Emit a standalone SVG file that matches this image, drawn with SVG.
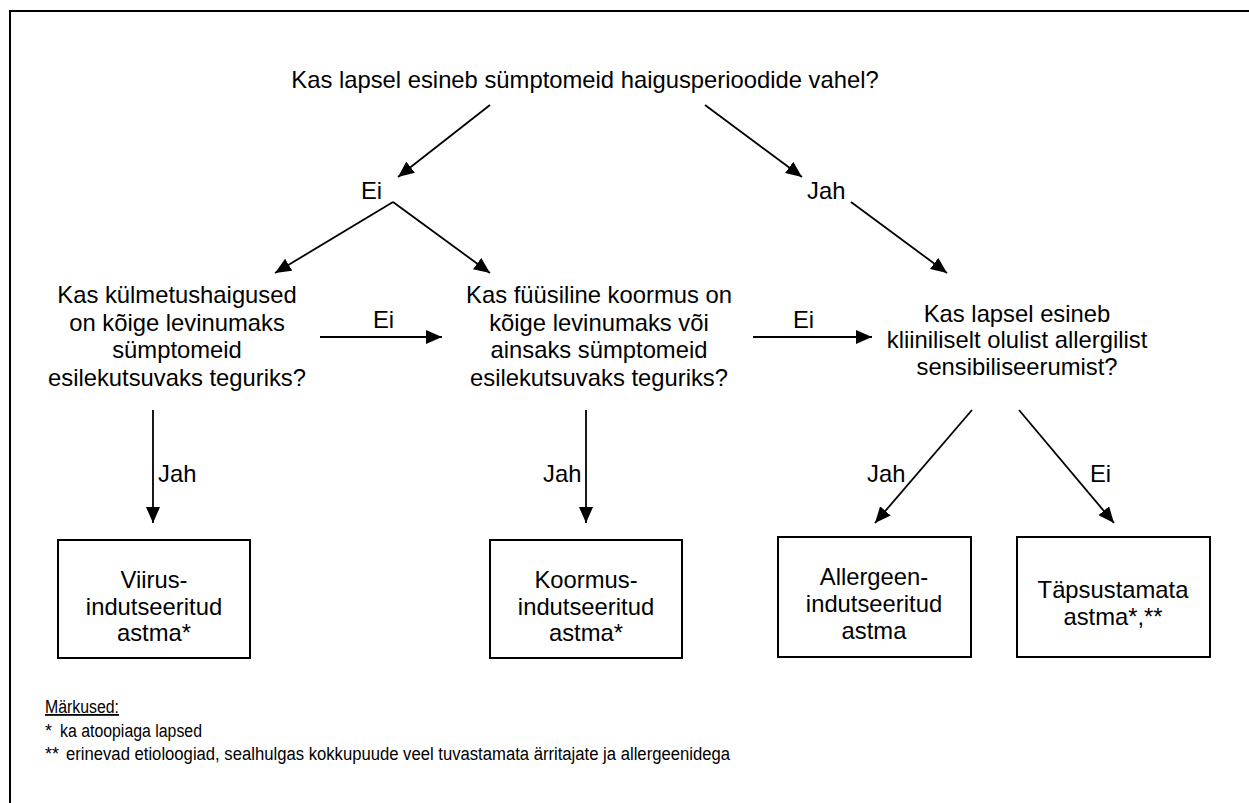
<svg xmlns="http://www.w3.org/2000/svg" width="1249" height="803" viewBox="0 0 1249 803">
<style>
text{font-family:"Liberation Sans",Arial,sans-serif;fill:#000}
.q{font-size:23.8px;text-anchor:middle}
.l{font-size:23.8px}
.n{font-size:18px}
.box{fill:#fff;stroke:#000;stroke-width:2}
.c line{stroke:#000;stroke-width:1.8;marker-end:url(#ah)}
</style>
<defs>
<marker id="ah" viewBox="0 0 16 14" refX="16" refY="7" markerWidth="16" markerHeight="14" markerUnits="userSpaceOnUse" orient="auto"><path d="M0,0 L16,7 L0,14 Z" fill="#000"/></marker>
</defs>
<rect width="1249" height="803" fill="#fff"/>
<path d="M10,803 V11 H1249" fill="none" stroke="#000" stroke-width="2"/>
<g id="q1"><text class="q" x="585" y="88">Kas lapsel esineb sümptomeid haigusperioodide vahel?</text></g>
<g id="ei1"><text class="l" x="361" y="199">Ei</text></g>
<g id="jah1"><text class="l" x="807" y="199">Jah</text></g>
<g id="q2"><text class="q" x="177"><tspan x="177" y="303">Kas külmetushaigused</tspan><tspan x="177" y="331">on kõige levinumaks</tspan><tspan x="177" y="358">sümptomeid</tspan><tspan x="177" y="386">esilekutsuvaks teguriks?</tspan></text></g>
<g id="q3"><text class="q" x="599"><tspan x="599" y="303">Kas füüsiline koormus on</tspan><tspan x="599" y="331">kõige levinumaks või</tspan><tspan x="599" y="358">ainsaks sümptomeid</tspan><tspan x="599" y="386">esilekutsuvaks teguriks?</tspan></text></g>
<g id="q4"><text class="q" x="1017"><tspan x="1017" y="322">Kas lapsel esineb</tspan><tspan x="1017" y="348">kliiniliselt olulist allergilist</tspan><tspan x="1017" y="375">sensibiliseerumist?</tspan></text></g>
<g id="r1"><rect class="box" x="58" y="540" width="192" height="118"/><text class="q" x="154"><tspan x="154" y="588">Viirus-</tspan><tspan x="154" y="615">indutseeritud</tspan><tspan x="154" y="641">astma*</tspan></text></g>
<g id="r2"><rect class="box" x="490" y="540" width="192" height="118"/><text class="q" x="586"><tspan x="586" y="588">Koormus-</tspan><tspan x="586" y="615">indutseeritud</tspan><tspan x="586" y="641">astma*</tspan></text></g>
<g id="r3"><rect class="box" x="778" y="537" width="193" height="120"/><text class="q" x="874"><tspan x="874" y="585">Allergeen-</tspan><tspan x="874" y="612">indutseeritud</tspan><tspan x="874" y="639">astma</tspan></text></g>
<g id="r4"><rect class="box" x="1017" y="537" width="193" height="120"/><text class="q" x="1113"><tspan x="1113" y="598">Täpsustamata</tspan><tspan x="1113" y="625">astma*,**</tspan></text></g>
<g class="c" id="connectors">
<line x1="490" y1="105" x2="398" y2="177"/>
<line x1="705" y1="105" x2="802" y2="177"/>
<line x1="393" y1="202" x2="275" y2="273"/>
<line x1="393" y1="202" x2="490" y2="273"/>
<line x1="851" y1="202" x2="947" y2="273"/>
<line x1="320" y1="337" x2="442" y2="337"/>
<line x1="753" y1="337" x2="872" y2="337"/>
<line x1="153" y1="410" x2="153" y2="523"/>
<line x1="586" y1="410" x2="586" y2="523"/>
<line x1="972" y1="410" x2="875" y2="523"/>
<line x1="1019" y1="410" x2="1114" y2="523"/>
</g>
<g id="labels">
<text class="l" x="373" y="328">Ei</text>
<text class="l" x="793" y="328">Ei</text>
<text class="l" x="158" y="482">Jah</text>
<text class="l" x="543" y="482">Jah</text>
<text class="l" x="867" y="482">Jah</text>
<text class="l" x="1090" y="482">Ei</text>
</g>
<g id="notes">
<text class="n" x="45" y="713" text-decoration="underline" textLength="74" lengthAdjust="spacingAndGlyphs">Märkused:</text>
<text class="n" y="737"><tspan x="45">*</tspan><tspan x="60" textLength="142" lengthAdjust="spacingAndGlyphs">ka atoopiaga lapsed</tspan></text>
<text class="n" y="760"><tspan x="45">**</tspan><tspan x="66" textLength="664" lengthAdjust="spacingAndGlyphs">erinevad etioloogiad, sealhulgas kokkupuude veel tuvastamata ärritajate ja allergeenidega</tspan></text>
</g>
</svg>
